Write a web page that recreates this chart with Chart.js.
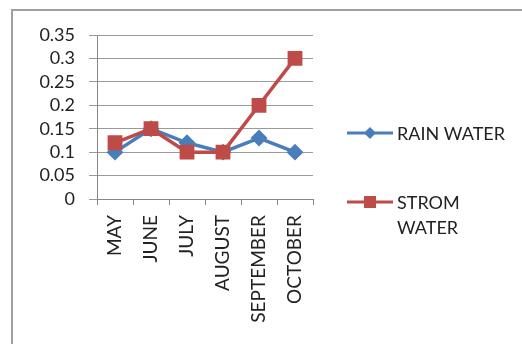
<!DOCTYPE html>
<html><head><meta charset="utf-8">
<script src="https://cdn.jsdelivr.net/npm/chart.js@4.4.0/dist/chart.umd.min.js"></script>
<style>
html,body{margin:0;padding:0;background:#fff;overflow:hidden;width:522px;height:344px;}
#frame{position:absolute;left:11px;top:9px;width:600px;height:400px;border-left:2px solid #a0a0a0;border-top:2px solid #a0a0a0;}
#wrap{position:absolute;left:0;top:0;width:522px;height:344px;}
</style></head><body>
<div id="frame"></div>
<div id="wrap"><canvas id="c" width="522" height="344"></canvas></div>
<script>
const categories = ["MAY","JUNE","JULY","AUGUST","SEPTEMBER","OCTOBER"];
const rainWater = [0.10,0.15,0.12,0.10,0.13,0.10];
const stromWater = [0.12,0.15,0.10,0.10,0.20,0.30];
const yTicks = [0,0.05,0.1,0.15,0.2,0.25,0.3,0.35];
const BLUE = '#4a7ebb', RED = '#be4b48';
const FONT = 'Lato, "Open Sans", sans-serif';

const legendPlugin = {
  id:'customLegend',
  afterDraw(chart){
    const ctx = chart.ctx;
    ctx.save();
    ctx.font = '18px ' + FONT;
    ctx.textBaseline = 'middle';
    ctx.textAlign = 'left';
    ctx.strokeStyle = BLUE; ctx.lineWidth = 3;
    ctx.beginPath(); ctx.moveTo(347,133); ctx.lineTo(393,133); ctx.stroke();
    ctx.fillStyle = BLUE;
    ctx.beginPath(); ctx.moveTo(370,127); ctx.lineTo(376,133); ctx.lineTo(370,139); ctx.lineTo(364,133); ctx.closePath(); ctx.fill();
    ctx.fillStyle = '#222';
    ctx.fillText('RAIN WATER',397,134);
    ctx.strokeStyle = RED;
    ctx.beginPath(); ctx.moveTo(347,202); ctx.lineTo(393,202); ctx.stroke();
    ctx.fillStyle = RED;
    ctx.fillRect(364,196,12,12);
    ctx.fillStyle = '#222';
    ctx.fillText('STROM',397,203);
    ctx.fillText('WATER',397,228);
    ctx.restore();
  }
};

new Chart(document.getElementById('c'),{
  type:'line',
  data:{labels:categories,datasets:[
    {label:'RAIN WATER',data:rainWater,borderColor:BLUE,backgroundColor:BLUE,borderWidth:3.5,pointStyle:'rectRot',pointRadius:6,pointHoverRadius:6,tension:0,order:1},
    {label:'STROM WATER',data:stromWater,borderColor:RED,backgroundColor:RED,borderWidth:3.5,pointStyle:'rect',pointRadius:8,pointHoverRadius:8,tension:0,order:0}
  ]},
  options:{
    responsive:false,animation:false,
    layout:{padding:{left:12,top:35,right:209,bottom:5}},
    plugins:{legend:{display:false},tooltip:{enabled:false}},
    scales:{
      x:{offset:true,
        grid:{offset:true,drawOnChartArea:false,drawTicks:true,tickLength:6,color:'#888'},
        border:{color:'#888',width:1},
        ticks:{maxRotation:90,minRotation:90,autoSkip:false,color:'#222',font:{family:FONT,size:19},padding:10},
        afterFit(s){s.height=140;}
      },
      y:{min:0,max:0.35,
        grid:{color:'#9a9a9a',tickLength:8,drawTicks:true},
        border:{color:'#888',width:1},
        afterBuildTicks(s){s.ticks=yTicks.map(v=>({value:v}));},
        ticks:{autoSkip:false,color:'#222',font:{family:FONT,size:18},padding:14,callback:v=>String(+v.toFixed(2))},
        afterFit(s){s.width=85;}
      }
    }
  },
  plugins:[legendPlugin]
});
</script></body></html>
